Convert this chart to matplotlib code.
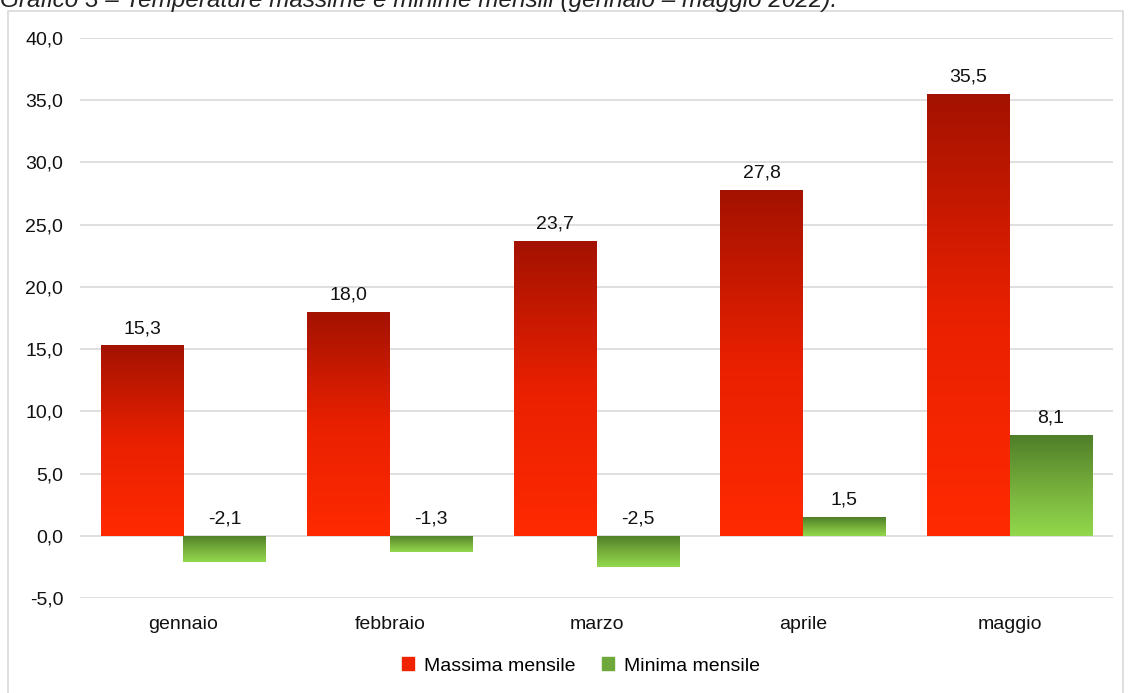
import matplotlib.pyplot as plt
import matplotlib.patches as mpatches
from matplotlib.colors import LinearSegmentedColormap
import numpy as np

plt.rcParams['font.family'] = ['Liberation Sans', 'DejaVu Sans']

mesi = ["gennaio", "febbraio", "marzo", "aprile", "maggio"]
massima = [15.3, 18.0, 23.7, 27.8, 35.5]
minima = [-2.1, -1.3, -2.5, 1.5, 8.1]
series_names = ["Massima mensile", "Minima mensile"]
title = "Grafico 3 – Temperature massime e minime mensili (gennaio – maggio 2022)."

red_cmap = LinearSegmentedColormap.from_list("red", ["#ff2a00", "#e92000", "#a31200"])
green_cmap = LinearSegmentedColormap.from_list("green", ["#92d84c", "#75ad3b", "#4f7e28"])

fig = plt.figure(figsize=(11.3, 6.93), dpi=100)
W, H = 1130, 693
ax = fig.add_axes([80 / W, 1 - 598 / H, (1113 - 80) / W, (598 - 38) / H])

# chart border
fig.patches.append(mpatches.Rectangle((8 / W, -0.01), (1123 - 8) / W, 1 - 11 / H + 0.01,
                                      transform=fig.transFigure, fill=False,
                                      ec="#d9d9d9", lw=1.2, zorder=0))
# title is cropped at the top edge, as in the source image
fig.text(0.0, 1 - 7 / H, title, fontsize=17.5, style="italic", color="#222222",
         va="baseline", ha="left")

x = np.arange(len(mesi))
w = 0.4
grad = np.linspace(0, 1, 256).reshape(-1, 1)


def gradient_bars(xs, vals, cmap):
    bars = ax.bar(xs, vals, w, color="none", edgecolor="none", zorder=3)
    for b in bars:
        x0, y0 = b.get_x(), b.get_y()
        x1, y1 = x0 + b.get_width(), y0 + b.get_height()
        lo, hi = min(y0, y1), max(y0, y1)
        im = ax.imshow(grad, cmap=cmap, aspect="auto", origin="lower",
                       extent=[x0, x1, lo, hi], zorder=3)
        im.set_clip_path(b)
    return bars


b1 = gradient_bars(x - w / 2, massima, red_cmap)
b2 = gradient_bars(x + w / 2, minima, green_cmap)

for xs, vals in [(x - w / 2, massima), (x + w / 2, minima)]:
    for xi, v in zip(xs, vals):
        ax.annotate(f"{v:.1f}".replace(".", ","), (xi, max(v, 0)),
                    xytext=(0, 6), textcoords="offset points",
                    ha="center", va="bottom", fontsize=14, color="#111111")

ax.set_xlim(-0.5, len(mesi) - 0.5)
ax.set_ylim(-5, 40)
ax.set_yticks(np.arange(-5, 41, 5))
ax.set_yticklabels([f"{t:.1f}".replace(".", ",") for t in np.arange(-5, 41, 5)])
ax.set_xticks(x)
ax.set_xticklabels(mesi)
ax.tick_params(length=0, labelsize=14, colors="#111111")
ax.tick_params(axis="y", pad=12)
ax.tick_params(axis="x", pad=13)
ax.grid(axis="y", color="#d9d9d9", lw=1.2, zorder=0)
ax.set_axisbelow(True)
for s in ax.spines.values():
    s.set_visible(False)

handles = [mpatches.Patch(color="#f02200"), mpatches.Patch(color="#6fa83a")]
fig.legend(handles, series_names, loc="center", bbox_to_anchor=(581 / W, 1 - 666 / H),
           ncol=2, frameon=False, fontsize=14, handlelength=0.6, handleheight=0.6,
           handletextpad=0.5, columnspacing=1.4)

fig.savefig("out.png", dpi=100)
